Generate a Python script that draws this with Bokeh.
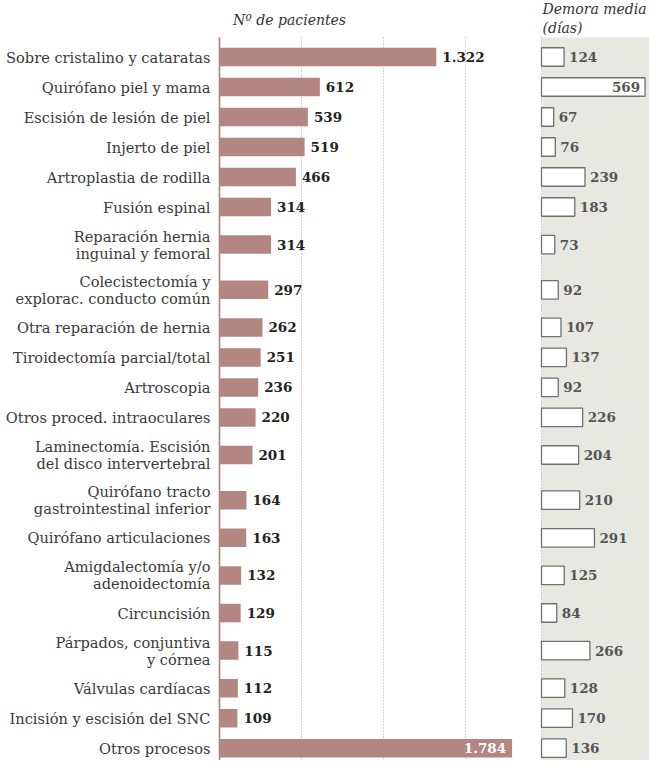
from bokeh.plotting import figure
from bokeh.models import Range1d, ColumnDataSource
from bokeh.core.properties import value
from bokeh.embed import file_html
from bokeh.resources import INLINE

# ---------------- data ----------------
categories = [
    "Sobre cristalino y cataratas",
    "Quirófano piel y mama",
    "Escisión de lesión de piel",
    "Injerto de piel",
    "Artroplastia de rodilla",
    "Fusión espinal",
    "Reparación hernia\ninguinal y femoral",
    "Colecistectomía y\nexplorac. conducto común",
    "Otra reparación de hernia",
    "Tiroidectomía parcial/total",
    "Artroscopia",
    "Otros proced. intraoculares",
    "Laminectomía. Escisión\ndel disco intervertebral",
    "Quirófano tracto\ngastrointestinal inferior",
    "Quirófano articulaciones",
    "Amigdalectomía y/o\nadenoidectomía",
    "Circuncisión",
    "Párpados, conjuntiva\ny córnea",
    "Válvulas cardíacas",
    "Incisión y escisión del SNC",
    "Otros procesos",
]
pacientes = [1322, 612, 539, 519, 466, 314, 314, 297, 262, 251, 236,
             220, 201, 164, 163, 132, 129, 115, 112, 109, 1784]
demora = [124, 569, 67, 76, 239, 183, 73, 92, 107, 137, 92,
          226, 204, 210, 291, 125, 84, 266, 128, 170, 136]
grid_ticks = [500, 1000, 1500]
header_pacientes = "Nº de pacientes"
header_demora = "Demora media\n(días)"

# ---------------- layout constants ----------------
W, H = 649, 760
AXIS_X = 219        # canvas px of the patients zero line
PX_PAC = 0.164      # px per patient
DEM_X = 541         # canvas px of the delay zero line
PX_DEM = 0.182      # px per day
TOP = 37
H1, H2 = 30.0, 45.2
Y0 = 56.5
BAR_H = 18.5

SERIF = value("DejaVu Serif")
BAR_COLOR = "#b38682"
GRID_COLOR = "#c49a95"

# row centres from line counts
ys = []
prev = None
y = Y0
for lab in categories:
    h = H1 if lab.count("\n") == 0 else H2
    if prev is not None:
        y += (prev + h) / 2
    ys.append(y)
    prev = h


def fmt(v):
    return f"{v:,}".replace(",", ".")


pac_max = max(pacientes)
dem_max = max(demora)

p = figure(width=W, height=H,
           x_range=Range1d(-AXIS_X / PX_PAC, (W - AXIS_X) / PX_PAC),
           y_range=Range1d(H, 0),
           output_backend="svg", toolbar_location=None,
           x_axis_location=None, y_axis_location=None,
           min_border=0)
p.extra_x_ranges = {"dem": Range1d(-DEM_X / PX_DEM, (W - DEM_X) / PX_DEM)}
p.grid.visible = False
p.outline_line_color = None
p.background_fill_color = "white"
p.border_fill_color = "white"

dem_end = (W - DEM_X) / PX_DEM

# grey panel for the delay column
p.quad(left=[0], right=[dem_end], top=[TOP], bottom=[H], x_range_name="dem",
       fill_color="#e8e8e3", line_color=None)
p.segment(x0=[0], x1=[0], y0=[TOP], y1=[H], x_range_name="dem",
          line_color=GRID_COLOR, line_width=1, line_dash="1 2")

# gridlines and axis
p.segment(x0=grid_ticks, x1=grid_ticks, y0=[TOP] * len(grid_ticks), y1=[H] * len(grid_ticks),
          line_color=GRID_COLOR, line_width=1, line_dash="1 2")
p.segment(x0=[0], x1=[0], y0=[TOP], y1=[H], line_color="#a88480", line_width=1.6)

src = ColumnDataSource(dict(y=ys, pac=pacientes, dem=demora))

# patient bars
p.hbar(y="y", left=0, right="pac", height=BAR_H, source=src,
       fill_color=BAR_COLOR, line_color=None)

# delay boxes
p.hbar(y="y", left=0, right="dem", height=BAR_H, source=src, x_range_name="dem",
       fill_color="white", line_color="#707070", line_width=1.3)

# category labels
p.text(x=[0] * len(ys), y=ys, text=categories, x_offset=-9,
       text_align="right", text_baseline="middle", text_font=SERIF,
       text_font_size="14.6px", text_color="#3a3a3a", text_line_height=1.0)

# patient value labels
out_i = [i for i, v in enumerate(pacientes) if v != pac_max]
in_i = [i for i, v in enumerate(pacientes) if v == pac_max]
p.text(x=[pacientes[i] for i in out_i], y=[ys[i] for i in out_i],
       text=[fmt(pacientes[i]) for i in out_i], x_offset=6,
       text_align="left", text_baseline="middle", text_font=SERIF,
       text_font_style="bold", text_font_size="13.5px", text_color="#222222")
p.text(x=[pacientes[i] for i in in_i], y=[ys[i] for i in in_i],
       text=[fmt(pacientes[i]) for i in in_i], x_offset=-6,
       text_align="right", text_baseline="middle", text_font=SERIF,
       text_font_style="bold", text_font_size="13.5px", text_color="white")

# delay value labels
dout = [i for i, v in enumerate(demora) if v != dem_max]
din = [i for i, v in enumerate(demora) if v == dem_max]
p.text(x=[demora[i] for i in dout], y=[ys[i] for i in dout],
       text=[str(demora[i]) for i in dout], x_offset=5, x_range_name="dem",
       text_align="left", text_baseline="middle", text_font=SERIF,
       text_font_style="bold", text_font_size="13.5px", text_color="#555555")
p.text(x=[demora[i] for i in din], y=[ys[i] for i in din],
       text=[str(demora[i]) for i in din], x_offset=-5, x_range_name="dem",
       text_align="right", text_baseline="middle", text_font=SERIF,
       text_font_style="bold", text_font_size="13.5px", text_color="#555555")

# headers
p.text(x=[427], y=[19], text=[header_pacientes], text_align="center",
       text_baseline="middle", text_font=SERIF, text_font_style="italic",
       text_font_size="14px", text_color="#333333")
p.text(x=[0], y=[18], text=[header_demora], x_range_name="dem", x_offset=1,
       text_align="left", text_baseline="middle", text_font=SERIF,
       text_font_style="italic", text_font_size="14px", text_color="#333333",
       text_line_height=1.15)

open("out.html", "w").write(file_html(p, INLINE))
